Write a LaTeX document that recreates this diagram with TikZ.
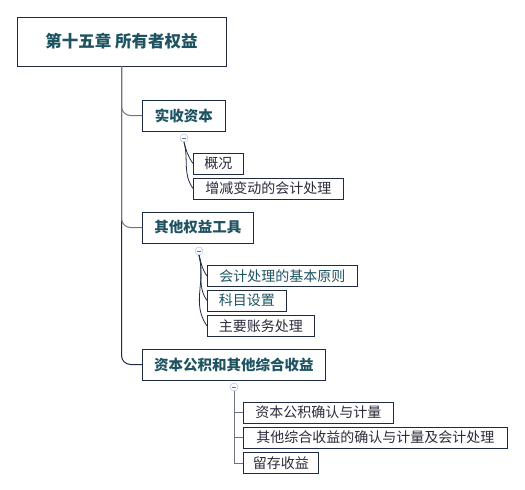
\documentclass[tikz,border=0pt]{standalone}
\usepackage{fontspec}
\setmainfont{Noto Sans CJK SC}
\definecolor{framecol}{HTML}{1F2A44}
\definecolor{tealtext}{HTML}{1E5361}
\definecolor{darktext}{HTML}{2B2B3B}
\definecolor{knobcol}{HTML}{9DB5E0}
\definecolor{linkcol}{HTML}{6E7480}
\begin{document}
\begin{tikzpicture}[x=1pt,y=-1pt,
  rootbox/.style={draw=framecol,thick,fill=white,minimum width=#1,minimum height=49pt,inner sep=0pt,text=tealtext,font=\fontsize{16.5}{18}\selectfont\bfseries},
  topicbox/.style={draw=framecol,thick,fill=white,minimum width=#1,minimum height=31pt,inner sep=0pt,anchor=west,text=tealtext,font=\fontsize{14.5}{16}\selectfont\bfseries},
  leafbox/.style={draw=framecol,thick,fill=white,minimum width=#1,minimum height=21pt,inner sep=0pt,anchor=west,text=darktext,font=\fontsize{14}{15}\selectfont},
  knob/.style={circle,draw=knobcol,fill=white,minimum size=8pt,inner sep=0pt},
  trunk/.style={draw=framecol,line width=1pt},
  link/.style={draw=linkcol,line width=1pt},
  twig/.style={draw=framecol,line width=0.8pt}]
\useasboundingbox (0,0) rectangle (525,490);
% root and main topics
\node[rootbox=209pt] (root) at (121.5,41.5) {第十五章 所有者权益};
\node[topicbox=83pt] (paid) at (142,115.5) {实收资本};
\node[topicbox=111pt] (other) at (142,227.5) {其他权益工具};
\node[topicbox=183pt] (surplus) at (142,364.5) {资本公积和其他综合收益};
\draw[trunk,rounded corners=9pt] (root.south) |- (surplus.west);
\draw[link,rounded corners=9pt] (root.south) |- (paid.west);
\draw[link,rounded corners=9pt] (root.south) |- (other.west);
% 实收资本
\node[knob] (k1) at (184,138) {};
\draw[linkcol,line width=0.8pt] ([xshift=-2pt]k1.center) -- ([xshift=2pt]k1.center);
\node[leafbox=50pt] (general) at (193,163.5) {概况};
\node[leafbox=150pt] (change) at (193,188.5) {增减变动的会计处理};
\foreach \n in {general,change}
  \draw[twig] (k1.south) to[out=-75,in=125] (\n.west);
% 其他权益工具
\node[knob] (k2) at (199,251) {};
\draw[linkcol,line width=0.8pt] ([xshift=-2pt]k2.center) -- ([xshift=2pt]k2.center);
\node[leafbox=150pt,text=tealtext] (rule) at (207,276) {会计处理的基本原则};
\node[leafbox=79pt,text=tealtext] (account) at (207,300.5) {科目设置};
\node[leafbox=107pt] (entry) at (207,326) {主要账务处理};
\foreach \n in {rule,account,entry}
  \draw[twig] (k2.south) to[out=-75,in=125] (\n.west);
% 资本公积和其他综合收益
\node[knob] (k3) at (234,387) {};
\draw[linkcol,line width=0.8pt] ([xshift=-2pt]k3.center) -- ([xshift=2pt]k3.center);
\node[leafbox=150pt] (capital) at (243,412.5) {资本公积确认与计量};
\node[leafbox=264pt] (income) at (243,437.5) {其他综合收益的确认与计量及会计处理};
\node[leafbox=75pt] (retained) at (243,463) {留存收益};
\foreach \n in {capital,income,retained}
  \draw[link] (k3.south) |- (\n.west);
\end{tikzpicture}
\end{document}
